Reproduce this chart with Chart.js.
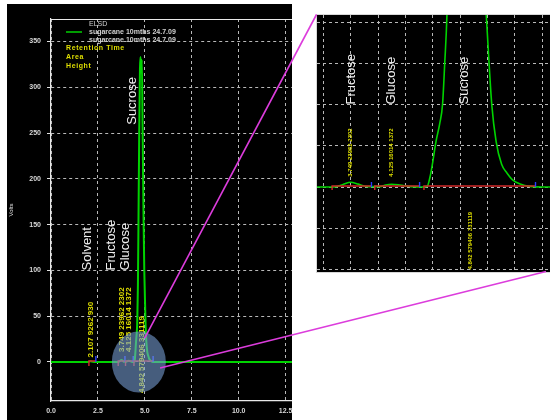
<!DOCTYPE html>
<html><head><meta charset="utf-8">
<script src="https://cdn.jsdelivr.net/npm/chart.js@4.4.1/dist/chart.umd.min.js"></script>
<style>
html,body{margin:0;padding:0;background:#fff;width:550px;height:420px;overflow:hidden;}
#mainBg{position:absolute;left:7px;top:4px;width:285px;height:416px;background:#000;}
#mainWrap{position:absolute;left:0;top:0;width:292px;height:420px;overflow:hidden;}
#insetBox{position:absolute;left:316px;top:14px;width:236px;height:257px;border:1px solid #d8d8d8;background:#000;}
#overlay{position:absolute;left:0;top:0;pointer-events:none;}
canvas{display:block;}
</style></head><body>
<div id="mainBg"></div>
<div id="mainWrap"><canvas id="main" width="330" height="420"></canvas></div>
<div id="insetBox"><canvas id="inset" width="236" height="257"></canvas></div>
<canvas id="overlay" width="550" height="420"></canvas>
<script>
// ---- data ----
const traceTime   = [0.0, 1.95, 2.05, 2.107, 2.17, 2.30, 3.60, 3.68, 3.749, 3.82, 3.90, 4.02, 4.07, 4.125, 4.20, 4.30, 4.40, 4.45, 4.48, 4.50, 4.53, 4.565, 4.59, 4.61, 4.63, 4.66, 4.70, 4.74, 4.77, 4.80, 4.84, 4.88, 4.93, 4.97, 4.99, 5.04, 5.08, 5.13, 5.18, 5.23, 5.30, 5.39, 5.50, 13.0];
const traceSignal = [0, 0, 0.5, 0.93, 0.4, 0, 0, 1.2, 2.3, 1.4, 0.2, 0.2, 1.0, 1.37, 1.0, 0.2, 0, 0.4, 6, 12, 22, 31, 40, 60, 83, 150, 250, 320, 333, 316, 330, 256, 160, 100, 83, 40, 22, 11, 6.7, 3.5, 1.5, 0.3, 0, 0];
const peakNames  = ['Solvent', 'Fructose', 'Glucose', 'Sucrose'];
const peakRT     = [2.107, 3.749, 4.125, 4.842];
const peakArea   = [9262, 23962, 16014, 579406];
const peakHeight = [930, 2302, 1372, 331119];
const peakStart  = [2.02, 3.58, 3.97, 4.42];
const peakEnd    = [2.39, 3.94, 4.38, 5.44];
const xTickValues = [0, 2.5, 5, 7.5, 10, 12.5];
const yTickValues = [0, 50, 100, 150, 200, 250, 300, 350];
const insetXTicks = [3.5, 3.75, 4.0, 4.25, 4.5, 4.75, 5.0, 5.25, 5.5];
const insetYTicks = [-40, -20, 0, 20, 40, 60, 80];
const legendTitle = 'ELSD';
const legendSeries = ['sugarcane 10mths 24.7.09', 'sugarcane 10mths 24.7.09'];
const resultFields = ['Retention Time', 'Area', 'Height'];
const yAxisTitle = 'Volts';

// ---- annotation placement (data units) ----
const mainNameX = [1.93, 3.24, 3.99, 4.36];
const mainNameY = [100, 100, 100, 259];
const mainTagY  = [5, 11, 11, -34];
const insetNameX = [null, 3.76, 4.12, 4.79];
const insetNameY = [null, 40, 40, 40];
const insetTagY  = [null, 5, 5, -40];

const trace = traceTime.map((t, i) => ({x: t, y: traceSignal[i]}));
const FONT = "'Liberation Sans', Arial, sans-serif";
const tagText = i => peakRT[i].toFixed(3) + ' ' + peakArea[i] + ' ' + peakHeight[i];

function vtext(ctx, txt, px, py) {
  ctx.save(); ctx.translate(px, py); ctx.rotate(-Math.PI / 2);
  ctx.textAlign = 'left'; ctx.textBaseline = 'middle';
  ctx.fillText(txt, 0, 0); ctx.restore();
}

function annPlugin(o) {
  return {
    id: 'ann_' + o.id,
    afterDatasetsDraw(chart) {
      const {ctx, chartArea: a, scales: {x, y}} = chart;
      ctx.save();
      ctx.beginPath(); ctx.rect(a.left, a.top, a.right - a.left, a.bottom - a.top); ctx.clip();
      const y0 = y.getPixelForValue(0) - 1;
      // integration baseline markers
      for (let i = 0; i < peakStart.length; i++) {
        const xs = x.getPixelForValue(peakStart[i]), xe = x.getPixelForValue(peakEnd[i]);
        ctx.strokeStyle = '#d42a2a'; ctx.lineWidth = 1.4;
        ctx.beginPath(); ctx.moveTo(xs, y0 + o.tick); ctx.lineTo(xs, y0); ctx.lineTo(xe, y0); ctx.stroke();
        ctx.strokeStyle = '#2a3cff';
        ctx.beginPath(); ctx.moveTo(xe, y0 + 1); ctx.lineTo(xe, y0 - o.tick); ctx.stroke();
      }
      // yellow result tags
      ctx.fillStyle = '#dede00';
      ctx.font = 'bold ' + o.tagSize + 'px ' + FONT;
      for (let i = 0; i < peakRT.length; i++) {
        if (o.tagY[i] == null) continue;
        vtext(ctx, tagText(i), x.getPixelForValue(peakRT[i]), y.getPixelForValue(o.tagY[i]));
      }
      // compound names
      ctx.fillStyle = '#f0f0f0';
      ctx.font = '13px ' + FONT;
      for (let i = 0; i < peakNames.length; i++) {
        if (o.nameX[i] == null) continue;
        vtext(ctx, peakNames[i], x.getPixelForValue(o.nameX[i]), y.getPixelForValue(o.nameY[i]));
      }
      ctx.restore();
      if (o.legend) {
        ctx.save();
        ctx.strokeStyle = '#e8e8e8'; ctx.lineWidth = 1;
        ctx.beginPath(); ctx.moveTo(a.left, a.top + 0.5); ctx.lineTo(a.right, a.top + 0.5); ctx.stroke();
        ctx.textBaseline = 'middle'; ctx.textAlign = 'left';
        ctx.font = '7px ' + FONT; ctx.fillStyle = '#d0d0d0';
        ctx.fillText(legendTitle, 89, 24);
        ctx.font = 'bold 7px ' + FONT;
        ctx.fillText(legendSeries[0], 89, 32);
        ctx.fillText(legendSeries[1], 89, 40);
        ctx.strokeStyle = '#00d000'; ctx.lineWidth = 1.5;
        ctx.beginPath(); ctx.moveTo(66, 32); ctx.lineTo(82, 32); ctx.stroke();
        ctx.fillStyle = '#dede00';
        ctx.letterSpacing = '0.6px';
        resultFields.forEach((t, i) => ctx.fillText(t, 66, 48 + i * 9));
        ctx.restore();
      }
    }
  };
}

const tickFont = {size: 7, weight: 'bold', family: FONT};

const mainChart = new Chart(document.getElementById('main'), {
  type: 'line',
  data: {datasets: [{data: trace, borderColor: '#00d400', borderWidth: 2, pointRadius: 0, fill: false, cubicInterpolationMode: 'monotone'}]},
  options: {
    responsive: false, animation: false, events: [],
    layout: {padding: {left: 0, top: 19, right: 35, bottom: 0}},
    plugins: {legend: {display: false}, tooltip: {enabled: false}},
    scales: {
      x: {
        type: 'linear', min: 0, max: 13,
        afterBuildTicks: s => { s.ticks = xTickValues.map(v => ({value: v})); },
        afterFit: s => { s.height = 19; },
        ticks: {color: '#d8d8d8', font: tickFont, padding: 6, maxRotation: 0, autoSkip: false, callback: v => Number(v).toFixed(1)},
        grid: {color: '#b8b8b8', lineWidth: 1, drawTicks: false},
        border: {display: true, color: '#e8e8e8', width: 1.2, dash: [3, 3]}
      },
      y: {
        type: 'linear', min: -42.6, max: 374.5,
        afterBuildTicks: s => { s.ticks = yTickValues.map(v => ({value: v})); },
        afterFit: s => { s.width = 51; },
        ticks: {color: '#d8d8d8', font: tickFont, padding: 6, callback: v => String(v)},
        grid: {color: '#b8b8b8', lineWidth: 1, drawTicks: true, tickLength: 4, tickColor: '#e0e0e0', tickBorderDash: []},
        border: {display: true, color: '#e8e8e8', width: 1.2, dash: [3, 3]},
        title: {display: true, text: yAxisTitle, color: '#e0e0e0', font: {size: 6, family: FONT}, padding: {top: 8, bottom: 0}}
      }
    }
  },
  plugins: [annPlugin({id: 'main', tick: 5, tagSize: 8, tagY: mainTagY, nameX: mainNameX, nameY: mainNameY, legend: true})]
});

const insetChart = new Chart(document.getElementById('inset'), {
  type: 'line',
  data: {datasets: [{data: trace, borderColor: '#00d400', borderWidth: 1.6, pointRadius: 0, fill: false, cubicInterpolationMode: 'monotone'}]},
  options: {
    responsive: false, animation: false, events: [],
    layout: {padding: 0},
    plugins: {legend: {display: false}, tooltip: {enabled: false}},
    scales: {
      x: {
        type: 'linear', min: 3.442, max: 5.6,
        afterBuildTicks: s => { s.ticks = insetXTicks.map(v => ({value: v})); },
        ticks: {display: false},
        grid: {color: '#b8b8b8', lineWidth: 1, drawTicks: false},
        border: {display: false, dash: [3, 3]}
      },
      y: {
        type: 'linear', min: -41.2, max: 83.4,
        afterBuildTicks: s => { s.ticks = insetYTicks.map(v => ({value: v})); },
        ticks: {display: false},
        grid: {color: '#b8b8b8', lineWidth: 1, drawTicks: false},
        border: {display: false, dash: [3, 3]}
      }
    }
  },
  plugins: [annPlugin({id: 'inset', tick: 4, tagSize: 6, tagY: insetTagY, nameX: insetNameX, nameY: insetNameY, legend: false})]
});

// ---- overlay: zoom circle and connector lines ----
(function () {
  const ov = document.getElementById('overlay').getContext('2d');
  const mx = mainChart.scales.x, my = mainChart.scales.y;
  const ix = insetChart.scales.x, iy = insetChart.scales.y;
  const box = document.getElementById('insetBox');
  const ic = document.getElementById('inset');
  const icx = box.offsetLeft + ic.offsetLeft, icy = box.offsetTop + ic.offsetTop;
  // circle around the peak cluster
  ov.fillStyle = 'rgba(120,160,215,0.58)';
  ov.beginPath();
  ov.ellipse(mx.getPixelForValue(4.68), my.getPixelForValue(0), 27, 30.5, 0, 0, Math.PI * 2);
  ov.fill();
  ov.strokeStyle = '#dc3cdc'; ov.lineWidth = 1.6;
  // upper connector: inset top-left corner -> circle
  ov.beginPath();
  ov.moveTo(box.offsetLeft + 0.5, box.offsetTop + 0.5);
  ov.lineTo(mx.getPixelForValue(4.99), my.getPixelForValue(26));
  ov.stroke();
  // lower connector: inset bottom edge -> circle
  ov.beginPath();
  ov.moveTo(icx + ix.getPixelForValue(5.545), icy + iy.bottom + 0.5);
  ov.lineTo(mx.getPixelForValue(5.81), my.getPixelForValue(-6.6));
  ov.stroke();
})();
</script>
</body></html>
